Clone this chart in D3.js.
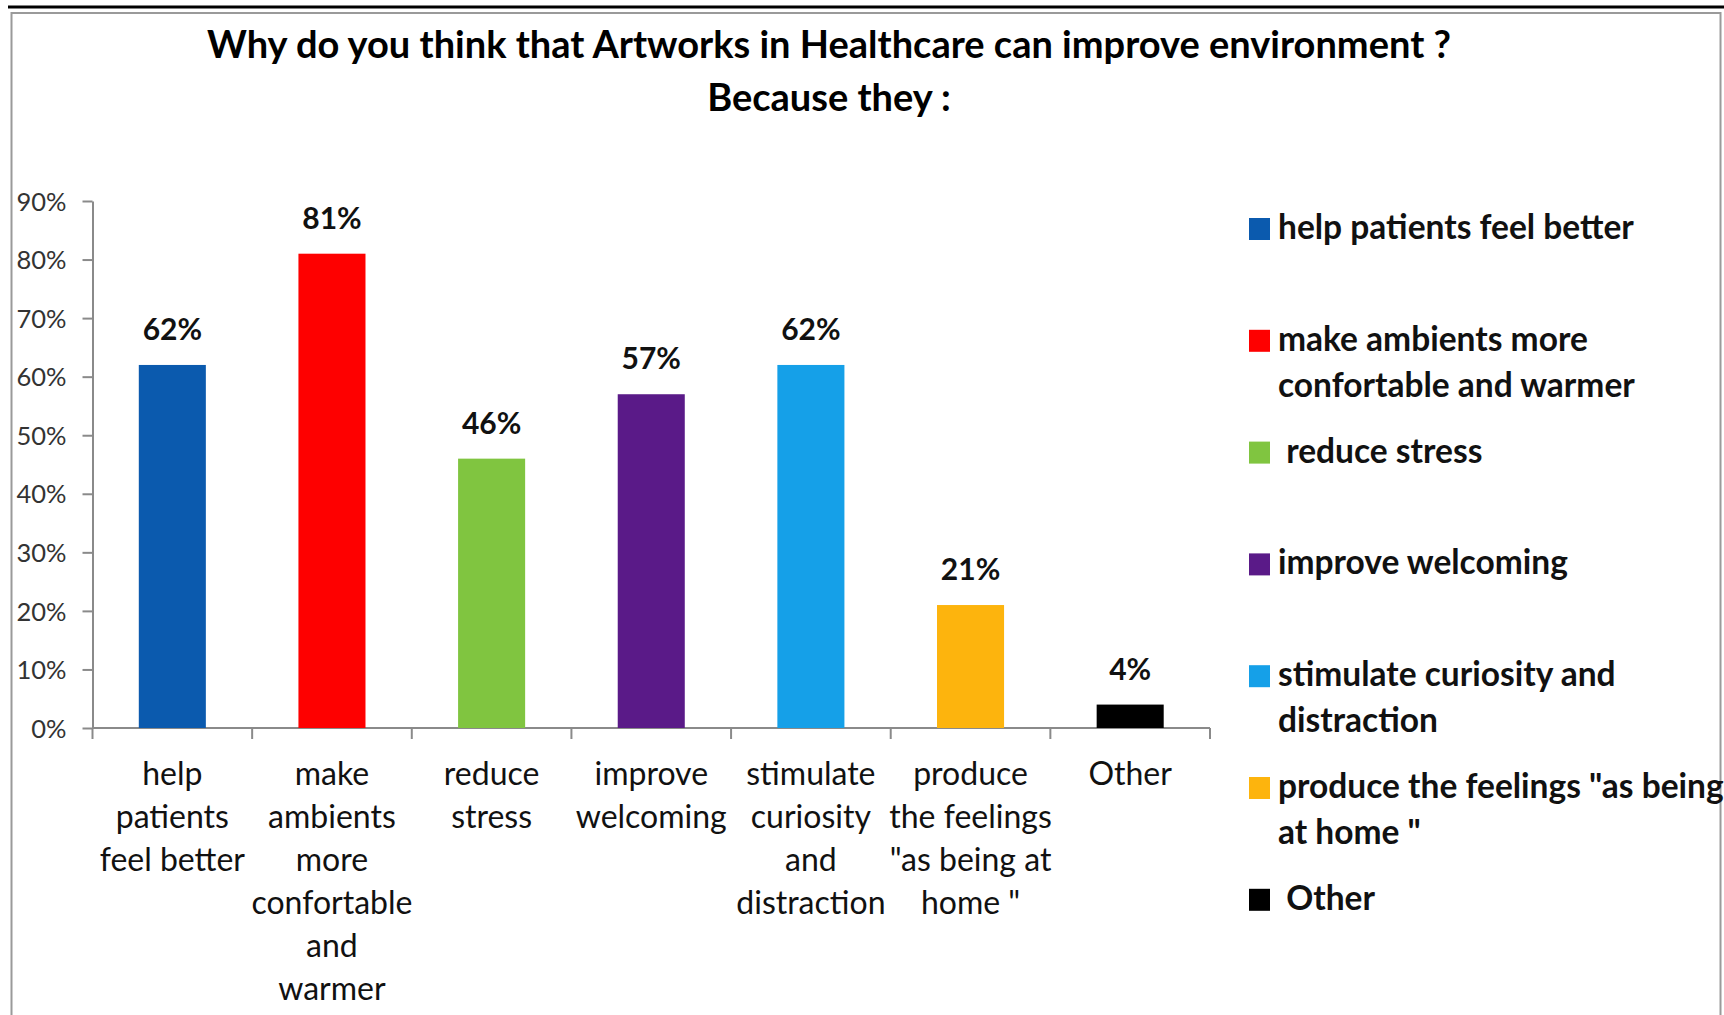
<!DOCTYPE html>
<html>
<head>
<meta charset="utf-8">
<script src="https://cdn.jsdelivr.net/npm/d3@7"></script>
<style>
    body { margin: 0; background: #fff; }
    svg { display: block; font-family: Lato, "Open Sans", sans-serif; }
</style>
</head>
<body>
<svg id="chart"></svg>
<script>
// data
let categories = [
    "help patients feel better",
    "make ambients more confortable and warmer",
    "reduce stress",
    "improve welcoming",
    "stimulate curiosity and distraction",
    "produce the feelings \"as being at home \"",
    "Other"
];
let values = [62, 81, 46, 57, 62, 21, 4];
let colors = ["#0b5aae", "#fe0000", "#80c540", "#5a1a88", "#15a0e8", "#fdb40d", "#000000"];
// axis labels, broken the way they are in the picture
let axisLabels = [
    ["help", "patients", "feel better"],
    ["make", "ambients", "more", "confortable", "and", "warmer"],
    ["reduce", "stress"],
    ["improve", "welcoming"],
    ["stimulate", "curiosity", "and", "distraction"],
    ["produce", "the feelings", "\"as being at", "home \""],
    ["Other"]
];
let legendLabels = [
    ["help patients feel better"],
    ["make ambients more", "confortable and warmer"],
    [" reduce stress"],
    ["improve welcoming"],
    ["stimulate curiosity and", "distraction"],
    ["produce the feelings \"as being", "at home \""],
    [" Other"]
];
let yTicks = [0, 10, 20, 30, 40, 50, 60, 70, 80, 90];
let titleLines = ["Why do you think that Artworks in Healthcare can improve environment ?", "Because they :"];

let W = 1724, H = 1015;
let svg = d3.select('#chart').attr('width', W).attr('height', H);

// frame
svg.append('line')
    .attr('x1', 8).attr('x2', W).attr('y1', 7).attr('y2', 7)
    .attr('stroke', '#000').attr('stroke-width', 3);
svg.append('rect')
    .attr('x', 11.5).attr('y', 13).attr('width', 1709).attr('height', 1020)
    .attr('fill', 'none').attr('stroke', '#9a9a9a').attr('stroke-width', 2);

// title
svg.append('text')
    .attr('x', 829).attr('text-anchor', 'middle')
    .attr('font-weight', 'bold').attr('font-size', 38)
    .selectAll('tspan').data(titleLines).enter().append('tspan')
    .attr('x', 829).attr('y', (d, i) => 58 + i * 53)
    .text(d => d);

let scX = d3.scaleBand()
    .domain(categories)
    .range([92.5, 1210])
    .paddingInner(0.58).paddingOuter(0.29);
let scY = d3.scaleLinear()
    .domain([0, 90])
    .range([728, 201]);

// y axis
let yAxis = svg.append('g')
    .attr('transform', 'translate(92.5,0)')
    .call(d3.axisLeft(scY).tickValues(yTicks).tickFormat(d => d + '%').tickSize(10).tickSizeOuter(0));
yAxis.select('.domain').attr('stroke', '#8a8a8a').attr('stroke-width', 2);
yAxis.selectAll('.tick line').attr('stroke', '#8a8a8a').attr('stroke-width', 2);
yAxis.selectAll('.tick text')
    .attr('x', -26).attr('dy', '0.36em')
    .attr('font-family', 'Lato, sans-serif').attr('font-size', 25.5)
    .attr('fill', '#333');

// x axis line and boundary ticks
let step = scX.step();
let x0 = scX.range()[0];
svg.append('line')
    .attr('x1', x0).attr('x2', scX.range()[1])
    .attr('y1', scY(0)).attr('y2', scY(0))
    .attr('stroke', '#8a8a8a').attr('stroke-width', 2);
svg.selectAll('line.xtick')
    .data(d3.range(categories.length + 1)).enter().append('line')
    .attr('class', 'xtick')
    .attr('x1', i => x0 + i * step).attr('x2', i => x0 + i * step)
    .attr('y1', scY(0)).attr('y2', scY(0) + 11)
    .attr('stroke', '#8a8a8a').attr('stroke-width', 2);

// bars
svg.selectAll('rect.bar')
    .data(values).enter().append('rect')
    .attr('class', 'bar')
    .attr('x', (d, i) => scX(categories[i]))
    .attr('y', d => scY(d))
    .attr('width', scX.bandwidth())
    .attr('height', d => scY(0) - scY(d))
    .attr('fill', (d, i) => colors[i]);

// value labels
svg.selectAll('text.val')
    .data(values).enter().append('text')
    .attr('class', 'val')
    .attr('x', (d, i) => scX(categories[i]) + scX.bandwidth() / 2)
    .attr('y', d => scY(d) - 25)
    .attr('text-anchor', 'middle')
    .attr('font-weight', 'bold').attr('font-size', 30)
    .attr('fill', '#111')
    .text(d => d + '%');

// category labels
let cats = svg.selectAll('text.cat')
    .data(axisLabels).enter().append('text')
    .attr('class', 'cat')
    .attr('text-anchor', 'middle')
    .attr('font-size', 32).attr('fill', '#111');
cats.each(function (lines, i) {
    let cx = scX(categories[i]) + scX.bandwidth() / 2;
    d3.select(this).selectAll('tspan')
        .data(lines).enter().append('tspan')
        .attr('x', cx).attr('y', (d, k) => 785 + k * 43)
        .text(d => d);
});

// legend
let legend = svg.append('g');
let rows = legend.selectAll('g')
    .data(legendLabels).enter().append('g')
    .attr('transform', (d, i) => 'translate(1249,' + (229 + i * 111.8) + ')');
rows.append('rect')
    .attr('x', 0).attr('y', -11).attr('width', 21).attr('height', 22)
    .attr('fill', (d, i) => colors[i]);
rows.append('text')
    .attr('font-weight', 'bold').attr('font-size', 33.5).attr('fill', '#111')
    .style('white-space', 'pre')
    .selectAll('tspan').data(d => d).enter().append('tspan')
    .attr('x', 29).attr('y', (d, k) => 10 + k * 46)
    .text(d => d);
</script>
</body>
</html>
